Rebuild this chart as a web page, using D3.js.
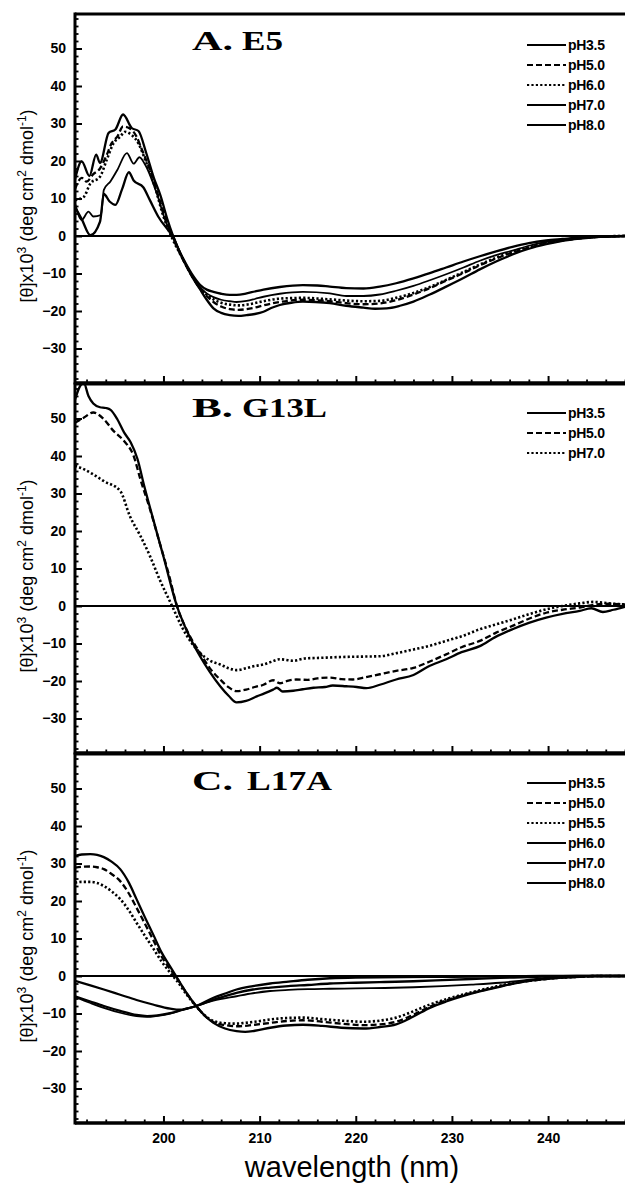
<!DOCTYPE html>
<html><head><meta charset="utf-8">
<script src="https://cdn.jsdelivr.net/npm/d3@7"></script>
<style>
html,body{margin:0;padding:0;background:#fff;}
svg{display:block;}
</style></head>
<body>
<script>
// ---------------- DATA ----------------
const xTickValues = [200, 210, 220, 230, 240];
const yTickValues = [-30, -20, -10, 0, 10, 20, 30, 40, 50];

const titlesA = ["A.", "E5"];
const titlesB = ["B.", "G13L"];
const titlesC = ["C.", "L17A"];

const legendA = ["pH3.5", "pH5.0", "pH6.0", "pH7.0", "pH8.0"];
const legendB = ["pH3.5", "pH5.0", "pH7.0"];
const legendC = ["pH3.5", "pH5.0", "pH5.5", "pH6.0", "pH7.0", "pH8.0"];

// Panel A (E5)
const A_pH35 = [[190.8,15.1],[191.5,19.9],[192.3,16.0],[193.0,21.7],[193.4,19.5],[194.3,27.5],[195.0,28.4],[195.8,32.4],[196.7,28.8],[197.4,28.0],[198.2,22.2],[199.0,15.5],[199.7,10.7],[200.4,4.5],[201.0,0],[201.9,-5.5],[202.9,-10.5],[203.8,-14.2],[204.5,-17],[205.2,-19.3],[206.0,-20.5],[206.9,-21.1],[207.8,-21.3],[208.65,-21.1],[209.5,-20.8],[210.4,-20.2],[211.2,-19.2],[212.1,-18.4],[213.3,-17.8],[214.5,-17.5],[215.8,-17.6],[217.3,-17.9],[219,-18.6],[220.8,-19.1],[222,-19.4],[223.2,-19.3],[224.6,-18.6],[226,-17.5],[227.7,-15.6],[229.4,-13.5],[231.2,-11.2],[232.9,-8.9],[234.6,-6.8],[236.3,-4.9],[238,-3.4],[239.8,-2.2],[241.5,-1.3],[243.3,-0.7],[245,-0.3],[246.7,-0.1],[248,0]];
const A_pH50 = [[190.8,12.5],[191.5,15.5],[192.0,14.5],[192.7,16.5],[193.4,18.0],[194.1,21.6],[194.6,24.7],[195.2,26.5],[195.8,29.2],[196.5,28.7],[197.2,26.5],[197.7,23.4],[198.6,17.6],[199.6,9.6],[200.9,0],[201.9,-5.6],[202.9,-10.4],[203.8,-14],[204.5,-16],[205.2,-17.6],[206.0,-18.8],[206.9,-19.5],[207.8,-19.7],[208.65,-19.5],[209.5,-19.1],[210.4,-18.5],[212.1,-17.6],[214.5,-17.0],[217.3,-17.4],[219,-17.9],[220.8,-18.2],[222.5,-18.0],[224.2,-17.1],[226,-15.6],[227.7,-13.9],[229.4,-11.9],[231.2,-9.9],[232.9,-7.8],[234.6,-6.0],[236.3,-4.4],[238,-3.1],[239.8,-2.0],[241.5,-1.2],[243.3,-0.6],[245,-0.3],[248,0]];
const A_pH60 = [[190.8,9.6],[191.7,10.4],[192.4,14.0],[193.4,15.8],[194.1,20.3],[194.8,24.7],[195.5,26.5],[196.0,27.8],[196.7,26.9],[197.4,24.7],[198.1,20.3],[199.1,13.2],[200.0,5.2],[200.8,0],[201.9,-5.6],[202.9,-10.3],[203.8,-13.8],[204.5,-15.6],[205.2,-16.9],[206.0,-17.8],[206.9,-18.3],[207.8,-18.5],[208.65,-18.3],[209.5,-17.9],[210.4,-17.4],[212.1,-16.7],[214.5,-16.5],[217.3,-16.9],[220.8,-17.4],[222.5,-17.3],[224.2,-16.5],[226,-15.2],[227.7,-13.6],[229.4,-11.7],[231.2,-9.6],[232.9,-7.6],[234.6,-5.8],[236.3,-4.2],[238,-2.9],[239.8,-1.9],[241.5,-1.1],[243.3,-0.5],[245,-0.2],[248,0]];
const A_pH70 = [[190.8,8.7],[191.5,4.3],[192.2,6.5],[192.7,5.2],[193.5,5.6],[193.8,12.3],[194.5,14.6],[195.2,17.6],[196.2,22.1],[196.9,19.3],[197.5,21.0],[198.1,19.0],[199.3,11.4],[200.3,3.4],[201.0,0],[201.9,-5.4],[202.9,-10.2],[203.8,-13.6],[204.5,-15.3],[205.2,-16.3],[206.0,-17.0],[206.9,-17.4],[207.6,-17.6],[208.65,-17.3],[209.5,-16.8],[210.4,-16.2],[212.1,-15.4],[214.5,-14.9],[217.3,-15.3],[219,-16.0],[220.8,-16.0],[222.5,-15.6],[224.2,-14.6],[226,-13.3],[227.7,-11.8],[229.4,-10.2],[231.2,-8.4],[232.9,-6.6],[234.6,-5.1],[236.3,-3.9],[238,-2.6],[239.8,-1.6],[241.5,-1.0],[243.3,-0.6],[245,-0.3],[248,0]];
const A_pH80 = [[190.8,7.8],[191.5,4.5],[192.4,0.2],[193.4,3.8],[193.8,11.2],[194.4,9.2],[195.0,8.3],[195.7,12.5],[196.4,17.0],[196.9,14.8],[197.9,13.0],[198.6,9.5],[199.5,5.0],[200.9,0],[201.9,-5.3],[202.9,-9.9],[203.8,-13.0],[204.5,-14.3],[205.2,-14.9],[206.0,-15.4],[206.9,-15.7],[207.6,-15.7],[208.65,-15.3],[209.5,-14.8],[210.4,-14.3],[212.1,-13.6],[214.5,-13.1],[216,-13.2],[217.3,-13.5],[219,-13.9],[220.8,-14.0],[222.5,-13.5],[224.2,-12.6],[226,-11.3],[227.7,-9.9],[229.4,-8.4],[231.2,-6.8],[232.9,-5.4],[234.6,-4.1],[236.3,-2.9],[238,-1.9],[239.8,-1.2],[241.5,-0.8],[243.3,-0.4],[245,-0.2],[248,0]];

// Panel B (G13L)
const B_pH35 = [[190.8,55],[191.3,58.5],[191.7,59.6],[192.2,56],[192.7,54],[193.4,53],[194.0,52.8],[194.5,52.3],[195.2,49.8],[195.9,46.3],[196.6,43.6],[197.3,39.2],[198.0,32],[199.0,22.5],[200.0,13.2],[201.4,0],[202.5,-7],[203.8,-13.4],[204.8,-17.5],[205.9,-21.4],[206.8,-24],[207.6,-25.7],[208.6,-25.3],[209.7,-24.1],[210.5,-23.3],[211.4,-22.3],[211.8,-21.8],[212.4,-22.8],[213.5,-22.6],[214.5,-22.2],[215.6,-21.8],[216.8,-21.6],[217.6,-21.2],[219.0,-21.4],[220.1,-21.6],[221.1,-21.9],[222.5,-21],[224.2,-19.6],[226.0,-18.4],[227.5,-16.2],[229.4,-14.2],[231,-12.3],[232.9,-10.7],[234.5,-8.3],[236.3,-6.2],[238,-4.5],[239.8,-3.1],[241.5,-2.1],[243.3,-1.3],[244.5,-0.6],[245.7,-1.6],[246.8,-1.0],[248,-0.2]];
const B_pH50 = [[190.8,48.9],[191.7,50.2],[192.7,51.6],[193.8,49.8],[194.8,46.7],[195.9,44],[196.9,40],[197.6,33.8],[198.6,25.8],[199.6,16.9],[200.6,8],[201.4,0],[202.5,-6.8],[203.8,-12.5],[204.8,-16.5],[205.9,-19.6],[206.8,-21.7],[207.6,-22.7],[208.6,-22.3],[209.5,-21.6],[210.4,-21.0],[211.4,-19.8],[212.1,-20.6],[213,-19.9],[213.8,-19.6],[215,-19.7],[216,-19.3],[217.3,-19.1],[218.5,-19.5],[219.7,-19.6],[221,-19.0],[222.5,-18.2],[224.2,-17.3],[226,-16.5],[227.7,-14.8],[229.4,-12.9],[231,-11.0],[232.9,-9.3],[234.6,-7.1],[236.3,-5.3],[238,-3.4],[239.8,-1.8],[241.5,-1.0],[243.3,-0.4],[245,0.4],[246.5,0.6],[248,0.4]];
const B_pH70 = [[190.8,37.4],[191.7,36.5],[192.7,35.1],[193.8,33.3],[195.5,30.7],[196.5,24],[197.6,18.7],[198.6,13.3],[199.6,7.1],[200.9,0],[202,-6],[203.8,-12.5],[204.8,-14.5],[205.9,-15.6],[206.8,-16.6],[207.6,-17.1],[208.6,-16.6],[209.5,-16.0],[210.4,-15.6],[211.2,-14.9],[212.1,-14.2],[213.5,-14.6],[214.7,-14.0],[216.6,-13.8],[218.5,-13.6],[220.5,-13.5],[222.5,-13.4],[224.2,-12.6],[226,-11.6],[227.7,-10.6],[229.4,-9.3],[231.2,-7.9],[232.9,-6.2],[234.6,-4.9],[236.3,-3.6],[238,-2.2],[239.8,-0.9],[241.5,0],[243.3,0.7],[244.7,1.1],[246.3,0.7],[248,0.4]];

// Panel C (L17A)
const C_pH35 = [[190.8,32],[191.5,32.4],[192.4,32.5],[193.1,32.3],[193.8,31.7],[194.6,30.5],[195.5,28.5],[196.4,24.9],[197.2,20.5],[198.1,15.5],[199,10.7],[199.8,6.3],[200.7,2.5],[201.4,-0.4],[202.4,-4.5],[203.4,-8],[204.3,-10.6],[205.2,-12.5],[206.4,-14],[207.6,-14.7],[208.5,-14.9],[209.5,-14.6],[211.1,-13.8],[212.8,-13.2],[214.5,-13.0],[216.5,-13.3],[218.5,-13.8],[220.8,-14.0],[222.5,-13.6],[224.2,-12.9],[226,-10.8],[227.7,-8.5],[229.4,-6.8],[231.2,-5.3],[232.9,-4.1],[234.6,-3.1],[236.3,-2.1],[238.1,-1.3],[239.8,-0.8],[241.5,-0.4],[243.3,-0.2],[245,0],[248,0]];
const C_pH50 = [[190.8,28.9],[191.5,29.1],[192.4,29.2],[193.1,29.0],[193.8,28.5],[194.6,27.2],[195.5,25.3],[196.4,22],[197.2,18.2],[198.1,13.8],[199,9.3],[199.8,5.2],[200.7,1.8],[201.4,-0.6],[202.4,-4.6],[203.4,-8],[204.3,-10.6],[205.2,-12.3],[206.4,-13.1],[207.6,-13.4],[208.5,-13.3],[209.5,-13.0],[211.1,-12.5],[212.8,-12.0],[214.5,-11.8],[216.5,-12.2],[218.5,-12.7],[220.8,-13.1],[222.5,-12.9],[224.2,-12.2],[226,-10.3],[227.7,-8.2],[229.4,-6.5],[231.2,-5.1],[232.9,-4.0],[234.6,-3.0],[236.3,-2.0],[238.1,-1.3],[239.8,-0.8],[241.5,-0.4],[243.3,-0.2],[245,0],[248,0]];
const C_pH55 = [[190.8,24.9],[191.5,25.1],[192.4,25.1],[193.1,24.8],[193.8,24.0],[194.6,22.6],[195.5,20.5],[196.4,17.5],[197.2,14.2],[198.1,10.6],[199,7.1],[199.8,3.9],[200.7,0.9],[201.4,-1.3],[202.4,-4.9],[203.4,-8.1],[204.3,-10.5],[205.2,-12.0],[206.4,-12.6],[207.6,-12.7],[208.5,-12.5],[209.5,-12.2],[211.1,-11.6],[212.8,-11.2],[214.5,-11.1],[216.5,-11.5],[218.5,-11.9],[220.8,-12.2],[222.5,-11.9],[224.2,-11.1],[226,-9.4],[227.7,-7.6],[229.4,-6.2],[231.2,-4.9],[232.9,-3.8],[234.6,-2.8],[236.3,-1.9],[238.1,-1.2],[239.8,-0.7],[241.5,-0.4],[243.3,-0.2],[245,0],[248,0]];
const C_pH60 = [[190.8,-5.4],[192.4,-6.8],[193.8,-8.0],[195.5,-9.3],[197.2,-10.4],[198.3,-10.7],[199.4,-10.5],[200.7,-9.9],[202,-9.0],[203.4,-8.0],[205.2,-6.3],[206.5,-5.3],[207.6,-4.5],[209.3,-3.6],[211.1,-3.1],[213,-2.7],[215,-2.4],[217.3,-2.0],[220,-1.8],[223,-1.6],[226,-1.4],[229,-1.1],[232,-0.8],[235,-0.5],[238,-0.3],[240,-0.1],[243,0],[248,0]];
const C_pH70 = [[190.8,-5.6],[192.4,-7.2],[193.8,-8.5],[195.5,-9.8],[197.2,-10.7],[198.3,-10.9],[199.4,-10.6],[200.7,-10.0],[202,-9.0],[203.4,-8.0],[205.2,-6.6],[207.6,-5.4],[209.3,-4.6],[211.1,-4.0],[213,-3.7],[215,-3.5],[217.3,-3.4],[220,-3.3],[223,-3.2],[226,-3.0],[229,-2.7],[232,-2.3],[235,-1.8],[237,-1.3],[239,-0.7],[240.5,-0.3],[243,0],[248,0]];
const C_pH80 = [[190.8,-1.3],[192.4,-2.5],[193.8,-3.6],[195.5,-5.0],[197.2,-6.4],[198.9,-7.6],[200.7,-8.7],[201.7,-9.0],[202.6,-8.6],[203.4,-8.0],[205.2,-5.8],[206.5,-4.6],[207.6,-3.6],[209.3,-2.7],[211.1,-2.0],[213,-1.5],[215,-1.0],[217.3,-0.6],[220,-0.4],[225,-0.3],[230,-0.2],[235,-0.1],[240,0],[248,0]];

// ---------------- LAYOUT ----------------
const W = 625, H = 1187;
const left = 75, right = 625;
const panelH = 369;
const yDomain = [-39.2, 59.2];
const xDomain = [190.8, 248];

const styles = {
  solid: {dash: null, width: 2.3},
  thin: {dash: null, width: 1.8},
  dashed: {dash: "6,3", width: 2.3},
  dotted: {dash: "2.2,2.2", width: 2.6}
};

const panels = [
  {top: 14, title: titlesA, titleBase: 50, titleW: [41, 41], suffixX: 242,
   legend: legendA, legendTop: 31,
   series: [[A_pH35,"solid"],[A_pH50,"dashed"],[A_pH60,"dotted"],[A_pH70,"thin"],[A_pH80,"solid"]]},
  {top: 384, title: titlesB, titleBase: 417, titleW: [41, 85], suffixX: 242,
   legend: legendB, legendTop: 29,
   series: [[B_pH35,"solid"],[B_pH50,"dashed"],[B_pH70,"dotted"]]},
  {top: 754, title: titlesC, titleBase: 790, titleW: [41, 85], suffixX: 247,
   legend: legendC, legendTop: 29,
   series: [[C_pH35,"solid"],[C_pH50,"dashed"],[C_pH55,"dotted"],[C_pH60,"solid"],[C_pH70,"thin"],[C_pH80,"solid"]]}
];

const svg = d3.select("body").append("svg").attr("width", W).attr("height", H);
const x = d3.scaleLinear().domain(xDomain).range([left, right]);

const minorX = d3.range(192, 249, 2).filter(v => v % 10 !== 0);
const minorY = d3.range(-38, 59, 2).filter(v => v % 10 !== 0);

panels.forEach((p, i) => {
  const y = d3.scaleLinear().domain(yDomain).range([p.top + panelH, p.top]);
  const g = svg.append("g");
  const clipId = "clip" + i;
  svg.append("clipPath").attr("id", clipId).append("rect")
    .attr("x", left).attr("y", p.top).attr("width", right - left).attr("height", panelH);

  // zero line
  g.append("line").attr("x1", left).attr("x2", right).attr("y1", y(0)).attr("y2", y(0))
    .attr("stroke", "#000").attr("stroke-width", 2);

  // curves
  const line = d3.line().x(d => x(d[0])).y(d => y(d[1])).curve(d3.curveMonotoneX);
  const cg = g.append("g").attr("clip-path", `url(#${clipId})`);
  p.series.forEach(([data, st]) => {
    const s = styles[st];
    cg.append("path").attr("d", line(data)).attr("fill", "none")
      .attr("stroke", "#000").attr("stroke-width", s.width)
      .attr("stroke-dasharray", s.dash).attr("stroke-linejoin", "round");
  });

  // y axis major
  const yAx = g.append("g").attr("transform", `translate(${left},0)`)
    .call(d3.axisLeft(y).tickValues(yTickValues).tickSizeInner(-7).tickSizeOuter(0).tickPadding(9));
  yAx.select(".domain").remove();
  yAx.selectAll("line").attr("stroke-width", 2);
  yAx.selectAll("text").attr("font-family", "'Liberation Sans', Arial, sans-serif")
    .attr("font-weight", "bold").attr("font-size", 14).attr("fill", "#000");
  const yMin = g.append("g").attr("transform", `translate(${left},0)`)
    .call(d3.axisLeft(y).tickValues(minorY).tickSizeInner(-3.5).tickSizeOuter(0).tickFormat(""));
  yMin.select(".domain").remove();
  yMin.selectAll("line").attr("stroke-width", 1.8);

  // x axis ticks (bottom of panel, pointing in)
  const xAx = g.append("g").attr("transform", `translate(0,${p.top + panelH})`)
    .call(d3.axisBottom(x).tickValues(xTickValues).tickSizeInner(-7).tickSizeOuter(0).tickPadding(10)
      .tickFormat(i === 2 ? d3.format("d") : ""));
  xAx.select(".domain").remove();
  xAx.selectAll("line").attr("stroke-width", 2);
  xAx.selectAll("text").attr("font-family", "'Liberation Sans', Arial, sans-serif")
    .attr("font-weight", "bold").attr("font-size", 14).attr("fill", "#000");
  const xMin = g.append("g").attr("transform", `translate(0,${p.top + panelH})`)
    .call(d3.axisBottom(x).tickValues(minorX).tickSizeInner(-3.5).tickSizeOuter(0).tickFormat(""));
  xMin.select(".domain").remove();
  xMin.selectAll("line").attr("stroke-width", 1.8);

  // frame
  g.append("line").attr("x1", left).attr("x2", left).attr("y1", p.top - 1.5).attr("y2", p.top + panelH + 1.5)
    .attr("stroke", "#000").attr("stroke-width", 3);
  g.append("line").attr("x1", left).attr("x2", right).attr("y1", p.top).attr("y2", p.top)
    .attr("stroke", "#000").attr("stroke-width", 3);
  g.append("line").attr("x1", left).attr("x2", right).attr("y1", p.top + panelH).attr("y2", p.top + panelH)
    .attr("stroke", "#000").attr("stroke-width", 3.5);

  // y title
  const yt = g.append("text")
    .attr("transform", `translate(33,${p.top + 192}) rotate(-90)`)
    .attr("text-anchor", "middle")
    .attr("font-family", "'Liberation Sans', Arial, sans-serif")
    .attr("font-size", 18).attr("fill", "#000");
  yt.append("tspan").text("[θ]x10");
  yt.append("tspan").attr("dy", -7).attr("font-size", 12).text("3");
  yt.append("tspan").attr("dy", 7).text(" (deg cm");
  yt.append("tspan").attr("dy", -7).attr("font-size", 12).text("2");
  yt.append("tspan").attr("dy", 7).text(" dmol");
  yt.append("tspan").attr("dy", -7).attr("font-size", 12).text("-1");
  yt.append("tspan").attr("dy", 7).text(")");

  // panel title
  const tf = "'Liberation Serif', 'Times New Roman', serif";
  g.append("text").attr("x", 192).attr("y", p.titleBase).text(p.title[0])
    .attr("font-family", tf).attr("font-weight", "bold").attr("font-size", 28)
    .attr("textLength", p.titleW[0]).attr("lengthAdjust", "spacingAndGlyphs");
  g.append("text").attr("x", p.suffixX).attr("y", p.titleBase).text(p.title[1])
    .attr("font-family", tf).attr("font-weight", "bold").attr("font-size", 28)
    .attr("textLength", p.titleW[1]).attr("lengthAdjust", "spacingAndGlyphs");

  // legend
  p.legend.forEach((lab, j) => {
    const ly = p.top + p.legendTop + j * 20;
    const s = styles[p.series[j][1]];
    g.append("line").attr("x1", 527).attr("x2", 566).attr("y1", ly).attr("y2", ly)
      .attr("stroke", "#000").attr("stroke-width", Math.min(s.width, 2))
      .attr("stroke-dasharray", s.dash);
    g.append("text").attr("x", 568).attr("y", ly + 4.5).text(lab)
      .attr("font-family", "'Liberation Sans', Arial, sans-serif")
      .attr("font-weight", "bold").attr("font-size", 14).attr("letter-spacing", -0.3);
  });
});

// x title
svg.append("text").attr("x", 352).attr("y", 1177).attr("text-anchor", "middle")
  .attr("font-family", "'Liberation Sans', Arial, sans-serif").attr("font-size", 29)
  .text("wavelength (nm)");
</script>
</body></html>
